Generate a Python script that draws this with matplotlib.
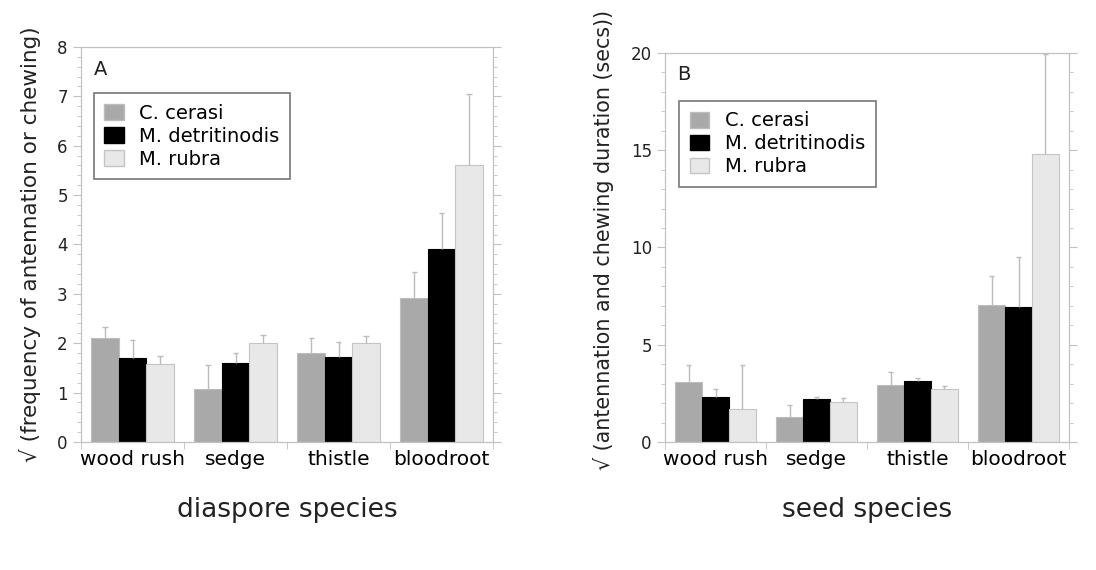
import numpy as np
import matplotlib
matplotlib.use('Agg')
import matplotlib.pyplot as plt
from matplotlib.patches import Patch
from matplotlib.ticker import MultipleLocator, FixedLocator

plt.rcParams['font.family'] = ['DejaVu Sans']

# Categories and series
species = ['wood rush', 'sedge', 'thistle', 'bloodroot']
ant_names = ['C. cerasi', 'M. detritinodis', 'M. rubra']

# Panel A: sqrt(frequency of antennation or chewing), mean and upper error
freqCerasi = [2.1, 1.07, 1.8, 2.91]
freqDetrit = [1.7, 1.6, 1.73, 3.9]
freqRubra = [1.58, 2.0, 2.0, 5.6]
freqCerasiErr = [0.23, 0.48, 0.3, 0.54]
freqDetritErr = [0.36, 0.21, 0.3, 0.73]
freqRubraErr = [0.16, 0.17, 0.15, 1.45]

# Panel B: sqrt(antennation and chewing duration (secs))
durCerasi = [3.1, 1.3, 2.93, 7.03]
durDetrit = [2.3, 2.19, 3.12, 6.92]
durRubra = [1.71, 2.07, 2.74, 14.83]
durCerasiErr = [0.88, 0.58, 0.65, 1.5]
durDetritErr = [0.41, 0.1, 0.15, 2.58]
durRubraErr = [2.23, 0.17, 0.15, 5.1]

colors = ['#a9a9a9', '#000000', '#e8e8e8']
edges = ['#bdbdbd', '#000000', '#c4c4c4']
frameColor = '#c2c2c2'
errColor = '#bcbcbc'


def drawPanel(ax, series, errs, ymax, major, minor, ylabel, xlabel, letter, legendPos,
              ylabelPos, ylabelSize):
    x = np.arange(len(species))
    w = 0.8 / 3
    for i, (vals, err) in enumerate(zip(series, errs)):
        pos = x - w + i * w
        vals = np.asarray(vals)
        err = np.asarray(err)
        ax.bar(pos, vals, width=w, color=colors[i], edgecolor=edges[i], linewidth=0.8, zorder=2)
        ax.vlines(pos, vals, vals + err, color=errColor, linewidth=1.0, zorder=3)
        ax.hlines(vals + err, pos - 0.025, pos + 0.025, color=errColor, linewidth=1.0, zorder=3)

    ax.set_xlim(-0.5, len(species) - 0.5)
    ax.set_ylim(0, ymax)
    ax.set_xticks(x)
    ax.set_xticklabels(species, fontsize=14.5)
    ax.xaxis.set_minor_locator(FixedLocator(np.arange(-0.5, len(species), 1.0)))
    ax.tick_params(axis='x', which='major', length=0, pad=6)
    ax.tick_params(axis='x', which='minor', length=5, color=frameColor, direction='out')
    ax.yaxis.set_major_locator(MultipleLocator(major))
    ax.yaxis.set_minor_locator(MultipleLocator(minor))
    ax.tick_params(axis='y', which='major', length=6, color=frameColor, labelsize=12,
                   left=True, right=True, labelcolor='#222222')
    ax.tick_params(axis='y', which='minor', length=3, color=frameColor, left=True, right=True)
    for s in ax.spines.values():
        s.set_color(frameColor)
        s.set_linewidth(0.9)

    ax.set_ylabel(ylabel, fontsize=ylabelSize, color='#222222')
    ax.yaxis.set_label_coords(*ylabelPos)
    ax.set_xlabel(xlabel, fontsize=19, labelpad=20, color='#222222')
    ax.text(0.03, 0.93, letter, transform=ax.transAxes, fontsize=14, color='#222222')

    handles = [Patch(facecolor=colors[i], edgecolor=edges[i]) for i in range(3)]
    leg = ax.legend(handles, ant_names, loc='upper left', bbox_to_anchor=legendPos,
                    fontsize=14, frameon=True, fancybox=False, handlelength=1.0,
                    handleheight=0.85, handletextpad=0.8, borderpad=0.55,
                    labelspacing=0.2, borderaxespad=0)
    leg.get_frame().set_edgecolor('#555555')
    leg.get_frame().set_linewidth(1.2)


fig = plt.figure(figsize=(10.96, 5.70), dpi=100)
axA = fig.add_axes([0.0739, 0.2246, 0.376, 0.693])
axB = fig.add_axes([0.6068, 0.2246, 0.3686, 0.6825])

drawPanel(axA, [freqCerasi, freqDetrit, freqRubra], [freqCerasiErr, freqDetritErr, freqRubraErr],
          8, 1, 0.2, '\u221a (frequency of antennation or chewing)', 'diaspore species', 'A',
          (0.031, 0.883), (-0.097, 0.5), 15.5)
drawPanel(axB, [durCerasi, durDetrit, durRubra], [durCerasiErr, durDetritErr, durRubraErr],
          20, 5, 1, '\u221a (antennation and chewing duration (secs))', 'seed species', 'B',
          (0.035, 0.877), (-0.127, 0.52), 14.9)

fig.savefig('out.png', dpi=100)
